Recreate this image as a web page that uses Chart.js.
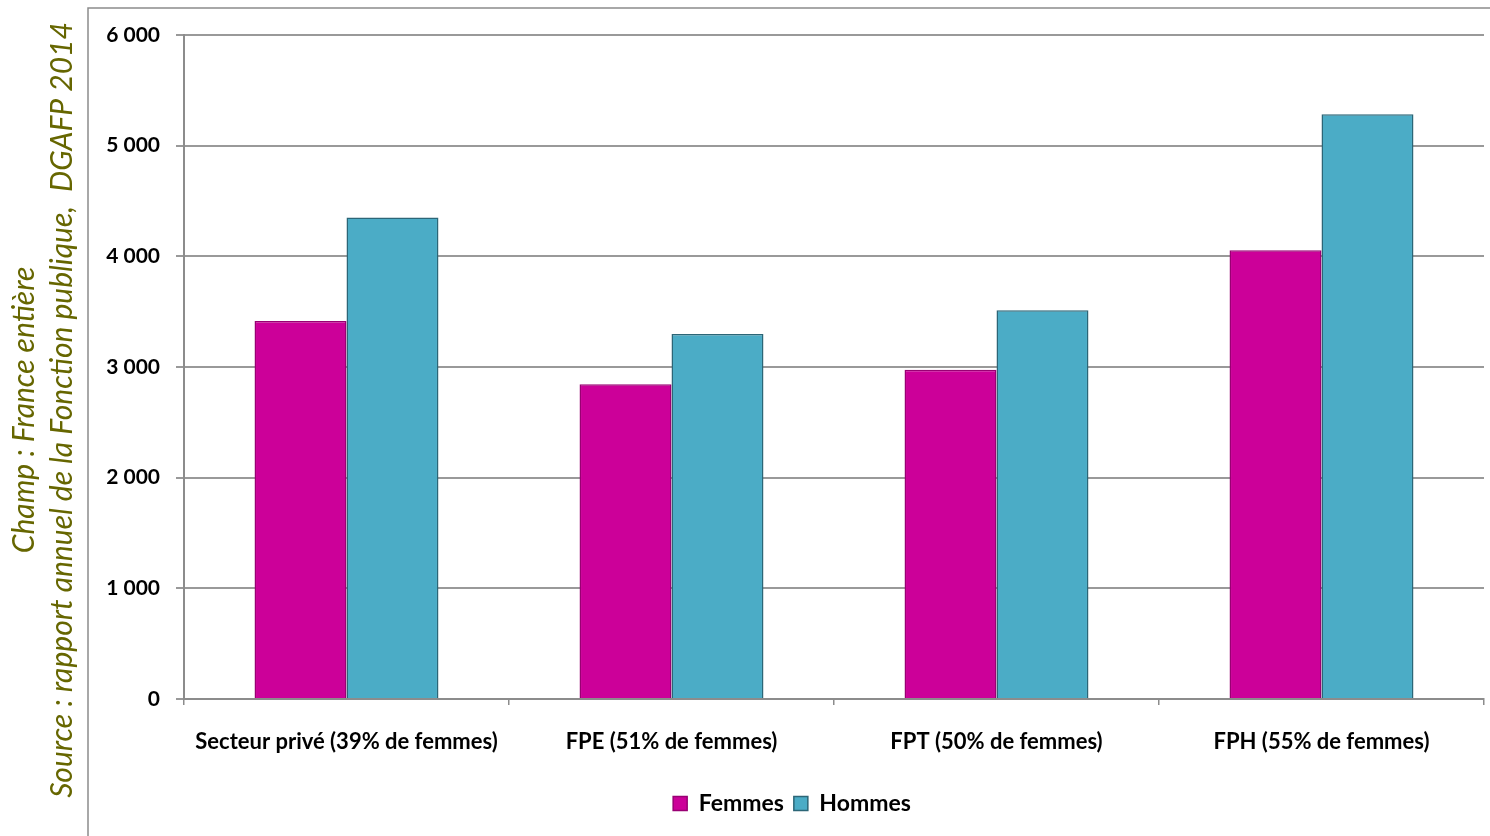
<!DOCTYPE html>
<html>
<head>
<meta charset="utf-8">
<script src="https://cdn.jsdelivr.net/npm/chart.js@4/dist/chart.umd.min.js"></script>
<style>
  html, body { margin: 0; padding: 0; background: #fff; }
  #wrap { width: 1490px; height: 836px; position: relative; }
</style>
</head>
<body>
<div id="wrap"><canvas id="chart" width="1490" height="836"></canvas></div>
<script>
// données
const categories = ['Secteur privé (39% de femmes)', 'FPE (51% de femmes)', 'FPT (50% de femmes)', 'FPH (55% de femmes)'];
const femmes = [3416, 2845, 2975, 4054];
const hommes = [4350, 3298, 3513, 5284];
const yTicks = [0, 1000, 2000, 3000, 4000, 5000, 6000];
const sideNotes = ['Champ : France entière', 'Source : rapport annuel de la Fonction publique,  DGAFP 2014'];

const FONT = 'Lato, "Open Sans", "DejaVu Sans", sans-serif';

function formatFr(v) {
  return String(v).replace(/\B(?=(\d{3})+(?!\d))/g, ' ');
}

// cadre + textes verticaux à gauche
const framePlugin = {
  id: 'frame',
  beforeDraw(chart) {
    const ctx = chart.ctx;
    ctx.save();
    ctx.strokeStyle = '#8c8c8c';
    ctx.lineWidth = 1.5;
    ctx.beginPath();
    ctx.moveTo(88, 836);
    ctx.lineTo(88, 8);
    ctx.lineTo(1490, 8);
    ctx.stroke();

    ctx.fillStyle = '#666600';
    ctx.font = 'italic 30px ' + FONT;
    ctx.textAlign = 'center';
    ctx.textBaseline = 'alphabetic';
    ctx.translate(0, 410);
    ctx.rotate(-Math.PI / 2);
    ctx.fillText(sideNotes[0], 0, 34);
    ctx.fillText(sideNotes[1], 0, 72);
    ctx.restore();
  }
};

const ctx = document.getElementById('chart').getContext('2d');
new Chart(ctx, {
  type: 'bar',
  data: {
    labels: categories,
    datasets: [
      {
        label: 'Femmes',
        data: femmes,
        backgroundColor: '#cc0099',
        borderColor: '#990073',
        borderWidth: 1.5,
        categoryPercentage: 0.566,
        barPercentage: 1.0
      },
      {
        label: 'Hommes',
        data: hommes,
        backgroundColor: '#4bacc6',
        borderColor: '#2c6677',
        borderWidth: 1.5,
        categoryPercentage: 0.566,
        barPercentage: 1.0
      }
    ]
  },
  options: {
    responsive: false,
    animation: false,
    layout: { padding: { left: 100, right: 6, top: 35, bottom: 11 } },
    plugins: {
      tooltip: { enabled: false },
      legend: {
        position: 'bottom',
        labels: {
          color: '#000',
          font: { family: FONT, size: 23, weight: 'bold' },
          boxWidth: 14,
          boxHeight: 14,
          padding: 10
        }
      }
    },
    scales: {
      x: {
        grid: { drawOnChartArea: false, drawTicks: true, tickLength: 6, color: '#8c8c8c', lineWidth: 1.5 },
        border: { color: '#8c8c8c', width: 2 },
        ticks: {
          color: '#000',
          font: { family: FONT, size: 22, weight: 'bold' },
          padding: 24,
          maxRotation: 0
        },
        afterFit(scale) { scale.height = 83; }
      },
      y: {
        min: 0,
        max: 6000,
        afterBuildTicks(scale) { scale.ticks = yTicks.map(v => ({ value: v })); },
        grid: { color: '#999999', lineWidth: 2, tickLength: 8 },
        border: { color: '#8c8c8c', width: 2 },
        ticks: {
          color: '#000',
          font: { family: FONT, size: 21, weight: 'bold' },
          padding: 16,
          callback: v => formatFr(v)
        },
        afterFit(scale) { scale.width = 84; }
      }
    }
  },
  plugins: [framePlugin]
});
</script>
</body>
</html>
